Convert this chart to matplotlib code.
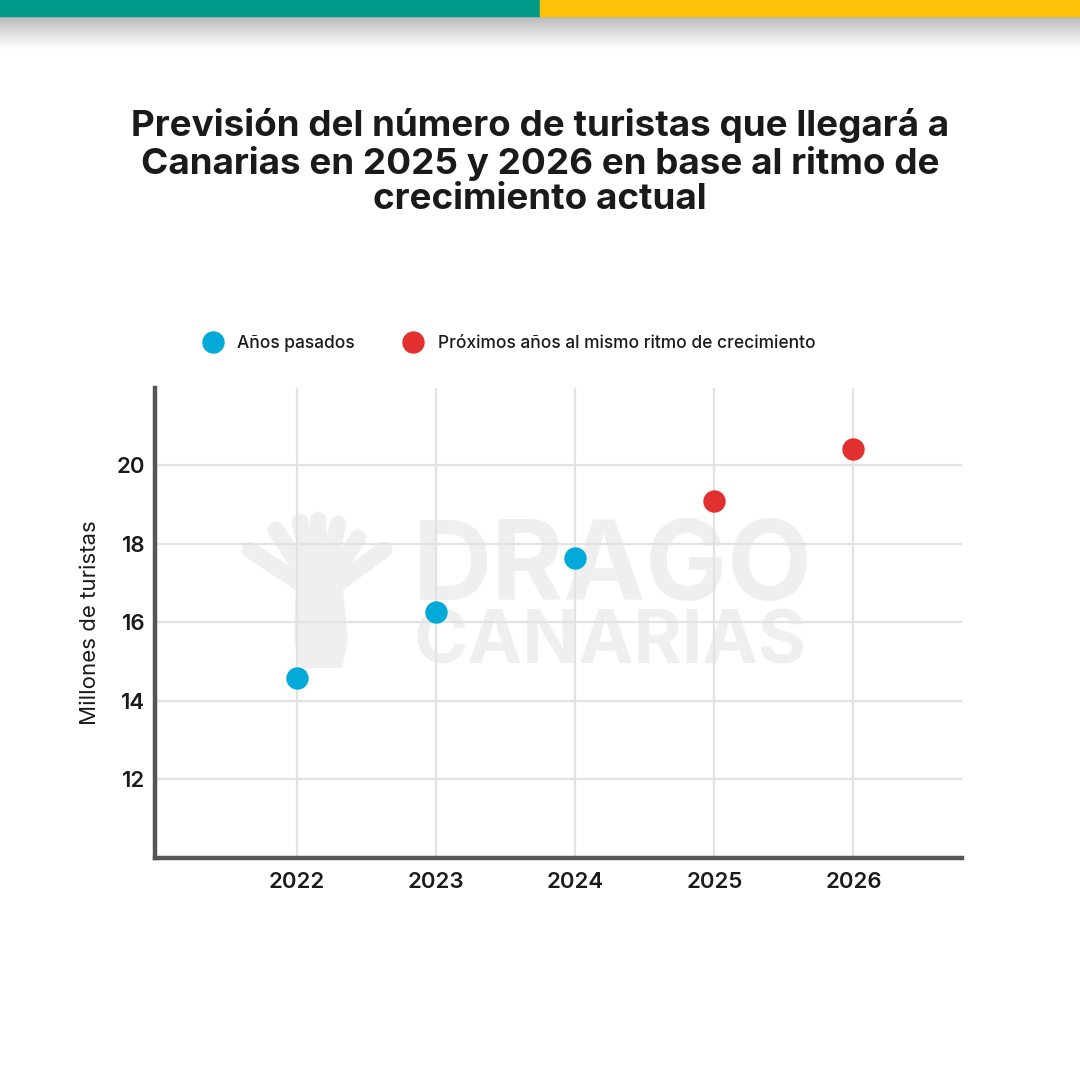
import matplotlib.pyplot as plt
from matplotlib.patches import Rectangle
import numpy as np

# datos
years_past = [2022, 2023, 2024]
tourists_past = [14.57, 16.27, 17.64]
years_next = [2025, 2026]
tourists_next = [19.09, 20.41]
x_ticks = [2022, 2023, 2024, 2025, 2026]
y_ticks = [12, 14, 16, 18, 20]

title = ("Previsión del número de turistas que llegará a\n"
         "Canarias en 2025 y 2026 en base al ritmo de\n"
         "crecimiento actual")

blue = "#03a9d9"
red = "#e1302f"
dark = "#1a1a1a"

plt.rcParams['font.family'] = ['Inter', 'DejaVu Sans']

fig = plt.figure(figsize=(10.8, 10.8), dpi=100)
W = H = 1080.0

# barra superior con sombra
fig.patches.append(Rectangle((0, 1 - 16 / H), 0.5, 16 / H, transform=fig.transFigure,
                             color="#00998a", zorder=5))
fig.patches.append(Rectangle((0.5, 1 - 16 / H), 0.5, 16 / H, transform=fig.transFigure,
                             color="#ffc20a", zorder=5))
sh = fig.add_axes([0.0, 1 - 50 / H, 1.0, 34 / H])
grad = np.linspace(0.55, 0.0, 64).reshape(-1, 1)
img = np.zeros((64, 1, 4))
img[..., :3] = 0.42
img[..., 3] = grad ** 1.2
sh.imshow(img, aspect="auto", extent=[0, 1, 0, 1])
sh.axis("off")

# titulo
fig.text(0.5, 1 - 162 / H, title, ha="center", va="center", fontsize=26.5,
         fontweight="bold", color=dark, linespacing=1.1)

# marca de agua (capa de fondo)
wm = fig.add_axes([0, 0, 1, 1], zorder=0)
wm.set_xlim(0, W)
wm.set_ylim(H, 0)
wm.axis("off")
wm_col = "#efefef"
wm.text(413, 600, "DRAGO", fontsize=79, fontweight="bold", color=wm_col,
        ha="left", va="baseline")
wm.text(414, 663, "CANARIAS", fontsize=53, fontweight="bold", color=wm_col,
        ha="left", va="baseline")
branches = [((318, 595), (250, 550)), ((318, 595), (276, 530)), ((318, 595), (300, 522)),
            ((320, 595), (318, 520)), ((322, 595), (338, 524)), ((322, 595), (358, 538)),
            ((322, 595), (384, 550))]
for (x0, y0), (x1, y1) in branches:
    wm.plot([x0, x1], [y0, y1], color=wm_col, lw=12, solid_capstyle="round")
wm.fill([296, 342, 348, 342, 300, 294], [580, 580, 640, 668, 668, 640], color=wm_col, lw=0)

# grafico
ax = fig.add_axes([155 / W, 1 - 858 / H, (962 - 155) / W, (858 - 388) / H], zorder=2)
ax.patch.set_alpha(0)
ax.set_xlim(2020.98, 2026.78)
ax.set_ylim(10.0, 21.96)
ax.set_xticks(x_ticks)
ax.set_yticks(y_ticks)
ax.grid(True, color="#e2e2e2", lw=1.6, zorder=0)
ax.set_axisbelow(True)
ax.scatter(years_past, tourists_past, s=260, color=blue, zorder=3, lw=0)
ax.scatter(years_next, tourists_next, s=260, color=red, zorder=3, lw=0)
for s in ["top", "right"]:
    ax.spines[s].set_visible(False)
for s in ["left", "bottom"]:
    ax.spines[s].set_color("#555555")
    ax.spines[s].set_linewidth(3.2)
ax.tick_params(axis="x", length=0, labelsize=16, colors=dark, pad=10)
ax.tick_params(axis="y", length=0, labelsize=16, colors=dark, pad=7)
for lab in ax.get_xticklabels() + ax.get_yticklabels():
    lab.set_fontweight("semibold")
ax.set_ylabel("Millones de turistas", fontsize=16, color=dark, labelpad=12)

# leyenda
leg = fig.add_axes([0, 0, 1, 1], zorder=3)
leg.set_xlim(0, W)
leg.set_ylim(H, 0)
leg.axis("off")
leg.scatter([213], [342], s=260, color=blue, lw=0)
leg.scatter([413], [342], s=260, color=red, lw=0)
leg.text(237, 343, "Años pasados", fontsize=12.5, color=dark, va="center", ha="left",
         fontweight="medium")
leg.text(438, 343, "Próximos años al mismo ritmo de crecimiento", fontsize=12.5,
         color=dark, va="center", ha="left", fontweight="medium")

fig.savefig("out.png", dpi=100, facecolor="white")
